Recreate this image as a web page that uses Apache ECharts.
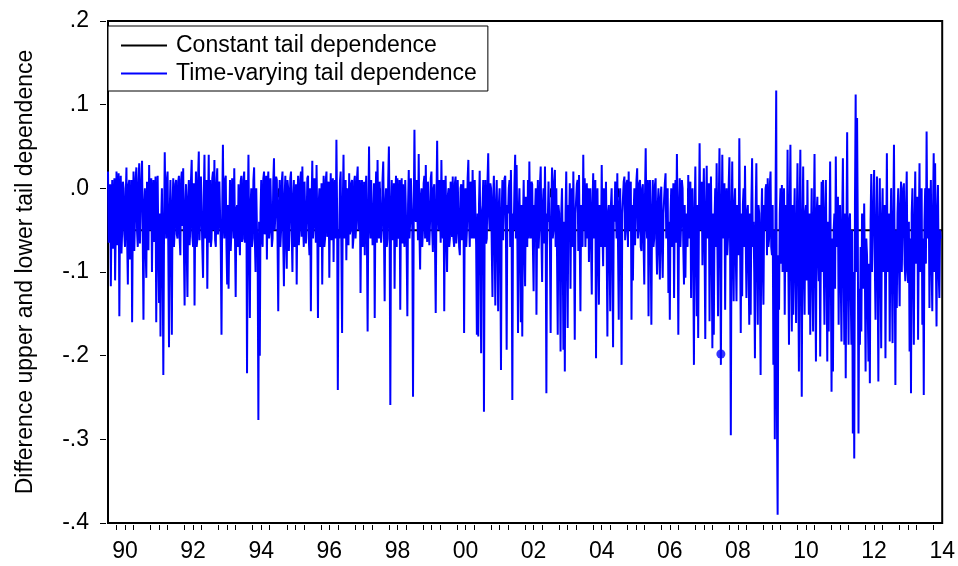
<!DOCTYPE html>
<html>
<head>
<meta charset="utf-8">
<script src="https://cdn.jsdelivr.net/npm/echarts@6/dist/echarts.min.js"></script>
<style>
  html, body { margin: 0; padding: 0; background: #fff; }
  #chart { width: 958px; height: 566px; }
</style>
</head>
<body>
<div id="chart"></div>
<script>
// Difference between upper and lower tail dependence, roughly weekly observations from 1990.
const START_YEAR = 1990;
const OBS_PER_YEAR = 48;

const tv1990_1994 = [
  0.02, -0.065, -0.04, 0.005, -0.117, -0.03, 0.01, -0.072, -0.06, 0.012, -0.11, -0.045, 0.02, -0.068, -0.03, 0.018, -0.153, -0.02, 0.015, -0.078, -0.05, 0.008, 0.0, -0.055, -0.07, -0.01, 0.025, -0.062, -0.115, 0.004, 0.01, -0.085, -0.06, 0.01, -0.16, -0.035, 0.02, -0.075, -0.04, 0.012, 0.025, -0.052, -0.07, 0.006, 0.03, -0.066, -0.02, 0.01,
  0.033, -0.06, -0.157, -0.02, 0.0, -0.07, -0.107, 0.008, -0.02, -0.074, 0.028, -0.04, -0.05, 0.012, -0.1, -0.02, 0.01, -0.064, -0.03, 0.014, -0.16, -0.05, 0.015, -0.07, -0.137, -0.03, -0.177, -0.04, 0.0, -0.08, -0.223, -0.05, 0.043, -0.025, -0.06, 0.01, 0.02, -0.07, -0.19, -0.03, 0.01, -0.065, -0.175, -0.02, 0.012, -0.07, -0.05, 0.005,
  0.01, -0.055, -0.06, 0.008, 0.015, -0.06, -0.08, 0.01, 0.02, -0.045, 0.024, -0.07, -0.14, -0.02, 0.005, -0.075, -0.13, -0.01, 0.01, -0.068, -0.05, 0.01, 0.034, -0.058, -0.07, 0.006, -0.14, -0.03, 0.02, -0.07, -0.06, 0.012, 0.044, -0.062, -0.03, 0.014, 0.015, -0.072, -0.107, -0.01, 0.04, -0.06, -0.05, 0.01, -0.12, -0.03, 0.04, -0.065,
  0.01, -0.07, -0.06, 0.012, 0.02, -0.05, 0.034, -0.062, -0.07, 0.005, 0.024, -0.055, -0.04, 0.008, 0.01, -0.072, -0.175, -0.03, 0.052, -0.04, -0.06, 0.01, 0.015, -0.068, -0.115, -0.02, -0.12, -0.045, 0.01, -0.075, -0.05, 0.012, 0.0, -0.06, 0.024, -0.058, -0.13, -0.025, -0.02, -0.07, 0.005, -0.05, -0.08, 0.008, 0.015, -0.064, -0.06, 0.01,
  0.02, -0.065, -0.05, 0.01, -0.221, -0.03, 0.04, -0.06, -0.155, -0.02, 0.0, -0.07, -0.06, 0.01, 0.025, -0.06, -0.1, 0.0, -0.05, -0.08, -0.277, -0.04, -0.2, -0.03, 0.01, -0.06, -0.07, 0.012, 0.02, -0.055, -0.04, 0.015, -0.085, 0.0, 0.02, -0.06, -0.05, 0.012, 0.01, -0.07, -0.06, 0.008, 0.036, -0.05, -0.03, 0.014, 0.01, -0.062
];
const tv1995_1999 = [
  -0.147, -0.02, 0.01, -0.07, -0.05, 0.008, 0.02, -0.06, -0.117, -0.01, 0.015, -0.065, -0.096, 0.01, 0.0, -0.075, -0.04, 0.012, 0.02, -0.055, -0.1, -0.01, 0.01, -0.07, -0.06, 0.005, -0.115, -0.02, 0.015, -0.068, -0.05, 0.01, 0.02, -0.058, 0.026, -0.045, -0.07, 0.008, 0.01, -0.066, -0.04, 0.012, 0.015, -0.06, -0.08, 0.0, -0.147, -0.02,
  0.033, -0.06, -0.04, 0.012, 0.01, -0.065, 0.028, -0.04, -0.155, -0.02, 0.0, -0.07, -0.05, 0.006, -0.115, -0.03, 0.015, -0.07, -0.06, 0.01, 0.02, -0.058, -0.03, 0.008, -0.107, -0.02, 0.018, -0.062, -0.05, 0.012, -0.088, -0.01, 0.01, -0.06, 0.058, -0.03, -0.241, -0.05, -0.06, 0.008, 0.02, -0.07, -0.173, -0.02, 0.04, -0.06, -0.05, 0.01,
  -0.086, -0.01, 0.0, -0.068, 0.018, -0.055, -0.05, 0.006, 0.01, -0.072, -0.06, 0.008, 0.015, -0.06, -0.04, 0.012, 0.026, -0.05, -0.03, 0.01, -0.125, -0.02, 0.01, -0.07, -0.05, 0.008, -0.08, -0.01, 0.015, -0.062, -0.171, -0.03, 0.05, -0.04, -0.06, 0.01, 0.01, -0.068, -0.05, 0.006, -0.155, -0.02, 0.02, -0.065, 0.034, -0.05, -0.06, 0.008,
  0.01, -0.065, -0.05, 0.01, 0.032, -0.05, -0.135, -0.02, 0.0, -0.07, -0.06, 0.008, 0.05, -0.04, -0.259, -0.03, 0.01, -0.062, -0.05, 0.006, -0.12, -0.02, 0.015, -0.07, 0.012, -0.055, -0.06, 0.01, -0.145, -0.02, 0.012, -0.066, 0.005, -0.058, -0.07, 0.01, 0.01, -0.07, -0.153, -0.02, 0.022, -0.06, -0.04, 0.012, 0.01, -0.05, -0.249, -0.03,
  0.07, -0.03, -0.04, 0.01, 0.01, -0.062, 0.041, -0.05, -0.097, -0.01, 0.0, -0.07, -0.05, 0.006, 0.015, -0.06, 0.028, -0.04, -0.064, 0.008, 0.01, -0.068, -0.04, 0.012, 0.02, -0.05, -0.076, 0.0, 0.005, -0.07, -0.149, -0.02, 0.057, -0.03, -0.05, 0.01, 0.01, -0.065, 0.034, -0.04, -0.06, 0.01, -0.147, -0.02, 0.015, -0.06, -0.1, -0.01
];
const tv2000_2004 = [
  0.0, -0.07, -0.06, 0.008, 0.01, -0.058, 0.014, -0.06, -0.07, 0.006, 0.014, -0.066, -0.05, 0.01, 0.01, -0.07, -0.08, 0.0, 0.005, -0.062, -0.06, 0.01, -0.173, -0.02, 0.0, -0.07, -0.05, 0.012, 0.034, -0.04, -0.07, 0.008, 0.01, -0.06, 0.022, -0.05, -0.06, 0.01, -0.03, -0.068, -0.175, -0.03, -0.177, -0.02, 0.021, -0.06, -0.197, -0.03,
  -0.02, 0.01, -0.267, -0.04, 0.01, -0.066, -0.06, 0.008, 0.042, -0.03, -0.05, 0.006, 0.0, -0.07, -0.13, -0.01, 0.015, -0.06, -0.14, -0.02, 0.01, -0.065, -0.147, -0.02, 0.0, -0.07, -0.217, -0.03, 0.01, -0.062, -0.06, 0.012, 0.015, -0.055, -0.193, -0.02, -0.03, 0.0, 0.01, -0.07, 0.022, -0.05, -0.253, -0.03, -0.05, 0.005, 0.04, -0.06,
  0.028, -0.05, -0.173, -0.03, 0.0, -0.07, -0.16, -0.02, -0.177, -0.04, 0.01, -0.068, -0.117, -0.01, -0.02, -0.07, 0.01, -0.06, 0.032, -0.04, -0.06, 0.008, 0.005, -0.07, -0.123, -0.02, -0.03, 0.0, -0.151, -0.03, 0.01, -0.072, -0.05, 0.006, 0.026, -0.06, -0.112, -0.02, 0.0, -0.066, 0.026, -0.05, -0.245, -0.03, -0.04, 0.008, 0.01, -0.07,
  -0.173, -0.02, 0.025, -0.06, -0.05, 0.008, 0.022, -0.07, 0.0, -0.08, -0.175, -0.02, -0.03, -0.08, -0.195, -0.03, 0.0, -0.07, -0.193, -0.04, -0.219, -0.03, 0.02, -0.07, -0.167, -0.02, -0.04, 0.006, -0.12, -0.01, 0.0, -0.07, 0.02, -0.06, -0.181, -0.03, -0.03, 0.005, 0.01, -0.075, 0.016, -0.06, -0.147, -0.02, -0.02, -0.07, 0.04, -0.05,
  0.012, -0.07, -0.03, 0.006, -0.06, 0.0, -0.088, -0.01, 0.0, -0.07, -0.127, -0.02, 0.018, -0.06, -0.04, 0.01, -0.203, -0.03, 0.0, -0.08, -0.139, -0.02, -0.02, -0.07, 0.028, -0.05, -0.093, 0.0, -0.03, -0.07, 0.008, -0.065, -0.177, -0.03, -0.02, -0.075, -0.147, -0.02, 0.0, -0.07, -0.19, -0.02, -0.04, 0.008, 0.01, -0.06, 0.018, -0.07
];
const tv2005_2009 = [
  -0.157, -0.02, 0.0, -0.07, -0.211, -0.03, -0.03, 0.008, 0.014, -0.062, -0.05, 0.006, 0.01, -0.07, 0.02, -0.05, -0.04, 0.008, -0.157, -0.02, -0.11, -0.03, 0.0, -0.068, -0.03, 0.01, 0.024, -0.06, -0.05, 0.006, 0.01, -0.07, -0.075, 0.0, 0.005, -0.066, -0.115, -0.01, 0.048, -0.04, -0.06, 0.01, -0.153, -0.02, 0.01, -0.06, -0.163, -0.03,
  0.01, -0.07, -0.06, 0.004, 0.012, -0.06, -0.103, -0.02, 0.0, -0.075, -0.109, -0.01, 0.002, -0.07, -0.107, -0.03, -0.03, 0.006, 0.018, -0.06, -0.05, 0.0, -0.125, -0.04, -0.157, -0.03, 0.0, -0.07, -0.04, 0.006, -0.131, -0.02, 0.01, -0.065, 0.041, -0.04, -0.175, -0.03, 0.012, -0.07, -0.04, 0.01, 0.0, -0.07, -0.115, -0.02, -0.107, -0.03,
  -0.03, -0.07, 0.016, -0.06, -0.04, 0.008, -0.131, -0.02, 0.0, -0.08, -0.211, -0.03, 0.026, -0.07, -0.153, -0.02, -0.179, -0.04, 0.054, -0.05, -0.03, 0.008, -0.092, -0.02, 0.024, -0.07, -0.18, -0.03, 0.027, -0.06, -0.05, 0.006, -0.159, -0.03, 0.014, -0.07, -0.191, -0.03, -0.175, -0.04, 0.0, -0.07, 0.03, -0.06, -0.153, -0.02, 0.048, -0.05,
  -0.211, -0.04, 0.04, -0.06, -0.03, 0.006, -0.145, -0.03, 0.0, -0.08, -0.06, 0.004, 0.037, -0.07, -0.295, -0.04, 0.032, -0.07, -0.135, -0.02, 0.0, -0.08, -0.135, -0.02, -0.02, -0.08, 0.06, -0.05, -0.173, -0.03, -0.129, -0.02, 0.0, -0.07, 0.027, -0.06, -0.131, -0.03, -0.02, -0.09, -0.163, -0.03, -0.151, -0.02, 0.036, -0.07, -0.04, -0.1,
  -0.203, -0.03, 0.03, -0.08, -0.163, -0.02, -0.03, -0.1, -0.223, -0.04, 0.0, -0.09, -0.139, -0.02, -0.05, 0.0, 0.005, -0.08, 0.012, -0.07, -0.06, 0.004, 0.02, -0.07, -0.08, -0.02, -0.211, -0.05, -0.3, -0.02, 0.117, -0.27, -0.39, -0.08, -0.145, -0.03, 0.0, -0.09, 0.004, -0.1, -0.06, 0.0, -0.151, -0.04, -0.02, -0.1, 0.046, -0.08
];
const tv2010_2014 = [
  -0.187, -0.03, 0.052, -0.08, -0.171, -0.02, -0.151, -0.05, 0.0, -0.1, -0.161, -0.04, 0.03, -0.09, -0.219, -0.03, 0.046, -0.1, -0.249, -0.05, 0.026, -0.09, -0.151, -0.03, -0.02, -0.11, 0.01, -0.08, -0.151, -0.03, -0.175, -0.06, 0.0, -0.1, -0.171, -0.04, 0.041, -0.09, -0.207, -0.03, -0.01, -0.08, -0.111, -0.02, -0.201, -0.06, 0.008, -0.1,
  0.01, -0.09, -0.163, -0.03, 0.01, -0.1, -0.207, -0.04, -0.171, -0.06, 0.032, -0.1, -0.243, -0.06, -0.219, -0.05, -0.03, -0.12, 0.038, -0.07, -0.05, -0.01, -0.163, -0.06, -0.02, -0.11, -0.183, -0.04, 0.036, -0.09, -0.187, -0.03, -0.227, -0.06, 0.067, -0.1, -0.187, -0.04, -0.03, -0.12, -0.187, -0.05, -0.293, -0.1, -0.323, -0.02, 0.112, -0.1,
  0.084, -0.05, -0.293, -0.12, -0.187, -0.07, -0.171, -0.03, -0.06, -0.12, -0.018, -0.1, -0.219, -0.06, -0.08, -0.14, -0.207, -0.09, -0.233, -0.04, 0.017, -0.1, -0.05, -0.02, 0.022, -0.09, -0.157, -0.05, 0.014, -0.1, -0.231, -0.05, 0.012, -0.09, -0.191, -0.04, 0.0, -0.1, -0.06, -0.02, -0.203, -0.08, 0.042, -0.1, -0.04, -0.03, -0.183, -0.06,
  0.0, -0.1, -0.185, -0.04, 0.052, -0.09, -0.235, -0.05, -0.143, -0.03, 0.0, -0.09, -0.141, -0.02, 0.008, -0.1, -0.05, 0.0, 0.006, -0.09, -0.111, -0.02, 0.02, -0.1, -0.113, -0.04, -0.195, -0.06, -0.245, -0.03, 0.0, -0.1, -0.187, -0.04, 0.02, -0.09, -0.05, -0.01, -0.181, -0.05, 0.03, -0.1, -0.06, 0.0, -0.163, -0.06, -0.247, -0.04,
  0.0, -0.09, 0.068, -0.06, -0.05, 0.0, -0.143, -0.04, 0.01, -0.09, -0.147, -0.03, 0.042, -0.1, 0.03, -0.08, -0.165, -0.03, 0.004, -0.1, -0.131, -0.05, -0.06
];

// Constant (static copula) tail dependence difference
const constantLevel = -0.05;
// A lone observation surrounded by missing values, drawn as a dot
const isolatedObs = [2008.0, -0.198];

// Axis layout values
const X_MIN = 1990;
const X_MAX = 2014.5;
const labelYears = [1990, 1992, 1994, 1996, 1998, 2000, 2002, 2004, 2006, 2008, 2010, 2012, 2014];
const Y_TICKS = { min: -0.4, max: 0.2, step: 0.1 };

const FONT = "'Liberation Sans', Arial, Helvetica, sans-serif";
const FS = 23;

const tvValues = [].concat(tv1990_1994, tv1995_1999, tv2000_2004, tv2005_2009, tv2010_2014);
const tvData = tvValues.map((v, i) => [START_YEAR + i / OBS_PER_YEAR, v]);

const yearTicks = [];
const quarterTicks = [];
for (let y = X_MIN; y <= 2014; y++) {
  yearTicks.push(y);
  [0.25, 0.5, 0.75].forEach(q => { if (y + q < X_MAX) quarterTicks.push(y + q); });
}
// year labels sit in the middle of each year
const labelPositions = labelYears.map(y => y + 0.5);

const chart = echarts.init(document.getElementById('chart'), null, { renderer: 'canvas' });

chart.setOption({
  animation: false,
  backgroundColor: '#fff',
  textStyle: { fontFamily: FONT },
  grid: {
    left: 108, right: 12, top: 21, bottom: 43,
    show: true, borderColor: '#000', borderWidth: 2, backgroundColor: 'transparent'
  },
  legend: {
    left: 108, top: 26,
    orient: 'vertical',
    padding: [8, 11, 6, 13],
    itemGap: 5,
    itemWidth: 46,
    itemHeight: 2,
    backgroundColor: '#fff',
    borderColor: '#000',
    borderWidth: 1,
    textStyle: { fontSize: FS, color: '#000', fontFamily: FONT, lineHeight: 23, padding: [0, 0, 0, 4] },
    data: [
      { name: 'Constant tail dependence', icon: 'rect' },
      { name: 'Time-varying tail dependence', icon: 'rect' }
    ]
  },
  xAxis: [
    {
      type: 'value', min: X_MIN, max: X_MAX, position: 'bottom', offset: 2,
      axisLine: { show: false },
      splitLine: { show: false },
      axisTick: { show: true, customValues: yearTicks, length: 9, lineStyle: { color: '#000', width: 1 } },
      axisLabel: {
        customValues: labelPositions,
        formatter: v => String(Math.floor(v)).slice(-2),
        fontSize: FS, color: '#000', fontFamily: FONT, margin: 15
      }
    },
    {
      type: 'value', min: X_MIN, max: X_MAX, position: 'bottom', offset: 2,
      axisLine: { show: false },
      splitLine: { show: false },
      axisTick: { show: true, customValues: quarterTicks, length: 5, lineStyle: { color: '#000', width: 1 } },
      axisLabel: { show: false }
    }
  ],
  yAxis: {
    type: 'value', min: Y_TICKS.min, max: Y_TICKS.max, interval: Y_TICKS.step, offset: 2,
    axisLine: { show: false },
    splitLine: { show: false },
    axisTick: { show: true, length: 6, lineStyle: { color: '#000', width: 1 } },
    axisLabel: {
      fontSize: FS, color: '#000', fontFamily: FONT, margin: 17,
      formatter: v => v.toFixed(1).replace(/^(-?)0\./, '$1.')
    },
    name: 'Difference upper and lower tail dependence',
    nameLocation: 'middle',
    nameRotate: 90,
    nameGap: 69,
    nameTextStyle: { fontSize: FS, color: '#000', fontFamily: FONT }
  },
  series: [
    {
      name: 'Constant tail dependence',
      type: 'line',
      xAxisIndex: 0,
      data: [[X_MIN, constantLevel], [X_MAX, constantLevel]],
      showSymbol: false,
      symbol: 'none',
      color: '#000',
      lineStyle: { width: 2, color: '#000' },
      silent: true,
      z: 2
    },
    {
      name: 'Time-varying tail dependence',
      type: 'line',
      xAxisIndex: 0,
      data: tvData,
      showSymbol: false,
      symbol: 'none',
      sampling: null,
      color: '#0000ff',
      lineStyle: { width: 2, color: '#0000ff' },
      silent: true,
      z: 3
    },
    {
      name: 'isolated',
      type: 'scatter',
      xAxisIndex: 0,
      data: [isolatedObs],
      symbol: 'circle',
      symbolSize: 9,
      itemStyle: { color: '#0000ff' },
      silent: true,
      z: 4
    }
  ]
});
</script>
</body>
</html>
